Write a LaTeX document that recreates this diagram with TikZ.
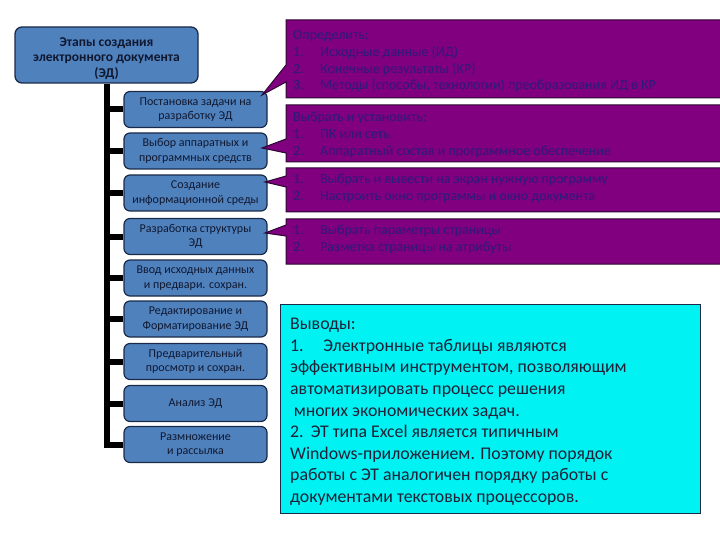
\documentclass[tikz,border=0pt]{standalone}
\usepackage{fontspec}
\setmainfont{Carlito}
\usetikzlibrary{backgrounds}
\definecolor{boxblue}{HTML}{4F81BD}
\definecolor{boxline}{HTML}{1A2A48}
\definecolor{boxtext}{HTML}{101830}
\definecolor{purp}{HTML}{800080}
\definecolor{purpline}{HTML}{2A0830}
\definecolor{purptext}{HTML}{2E1A78}
\definecolor{cyanfill}{HTML}{00F2F2}
\definecolor{cyantext}{HTML}{202038}
\begin{document}
\begin{tikzpicture}[x=1pt,y=-1pt,
  topbox/.style={draw=boxline,line width=1.3pt,fill=boxblue,rounded corners=7pt,
    minimum width=183pt,minimum height=56pt,inner sep=0pt},
  toptext/.style={align=center,text=boxtext,
    font=\bfseries\fontsize{13.5}{15.5}\selectfont,inner sep=0pt},
  stepbox/.style={draw=boxline,line width=1.2pt,fill=boxblue,rounded corners=6pt,
    minimum width=143pt,minimum height=36pt,align=center,text=boxtext,
    font=\fontsize{12}{14.5}\selectfont,inner sep=1pt},
  trunk/.style={line width=6pt,black},
  callout/.style={draw=purpline,line width=1pt,fill=purp},
  ctext/.style={anchor=north west,inner sep=0pt,align=left,text=purptext,
    font=\fontsize{14}{16.7}\selectfont},
  concl/.style={draw=boxline,line width=1pt,fill=cyanfill}
]
\useasboundingbox (0,0) rectangle (720,540);

% left column
\node[topbox] (top) at (106.5,55) {};
\node[toptext] (toplabel) at (106.5,58.5) {Этапы создания\\электронного документа\\(ЭД)};
\node[stepbox] (s1) at (195.5,109.5) {Постановка задачи на\\разработку ЭД};
\node[stepbox] (s2) at (195.5,151) {Выбор аппаратных и\\программных средств};
\node[stepbox] (s3) at (195.5,193) {Создание\\информационной среды};
\node[stepbox] (s4) at (195.5,236.5) {Разработка структуры\\ЭД};
\node[stepbox] (s5) at (195.5,278) {Ввод исходных данных\\и предвари. сохран.};
\node[stepbox] (s6) at (195.5,319) {Редактирование и\\Форматирование ЭД};
\node[stepbox] (s7) at (195.5,361.5) {Предварительный\\просмотр и сохран.};
\node[stepbox] (s8) at (195.5,403.5) {Анализ ЭД};
\node[stepbox] (s9) at (195.5,444.5) {Размножение\\и рассылка};

\begin{scope}[on background layer]
\draw[trunk,line join=miter] (top.south) |- (s9.west);
\foreach \i in {1,...,8}{
  \draw[trunk] (s\i.west) -- (s\i.west -| top.south);
}
\end{scope}

% callouts
\coordinate (t1) at (262,95);
\coordinate (t2) at (262,148);
\coordinate (t3) at (265,182);
\coordinate (t4) at (265,233);

\draw[callout] (286,20) -- (724,20) -- (724,98) -- (286,98) -- (286,82) -- (t1) -- (286,65) -- cycle;
\draw[callout] (286,105) -- (724,105) -- (724,162) -- (286,162) -- (286,153) -- (t2) -- (286,139) -- cycle;
\draw[callout] (286,168) -- (724,168) -- (724,212) -- (286,212) -- (286,187) -- (t3) -- (286,176) -- cycle;
\draw[callout] (286,219) -- (724,219) -- (724,264) -- (286,264) -- (286,236) -- (t4) -- (286,225) -- cycle;

\node[ctext] (c1) at (293,28) {\begin{tabular}{@{}p{27pt}@{}l@{}}
\multicolumn{2}{@{}l@{}}{Определить:}\\
1. & Исходные данные (ИД)\\
2. & Конечные результаты (КР)\\
3. & Методы (способы, технологии) преобразования ИД в КР
\end{tabular}};
\node[ctext] (c2) at (293,110) {\begin{tabular}{@{}p{27pt}@{}l@{}}
\multicolumn{2}{@{}l@{}}{Выбрать и установить:}\\
1. & ПК или сеть\\
2. & Аппаратный состав и программное обеспечение
\end{tabular}};
\node[ctext] (c3) at (293,172) {\begin{tabular}{@{}p{27pt}@{}l@{}}
1. & Выбрать и вывести на экран нужную программу\\
2. & Настроить окно программы и окно документа
\end{tabular}};
\node[ctext] (c4) at (293,223) {\begin{tabular}{@{}p{27pt}@{}l@{}}
1. & Выбрать параметры страницы\\
2. & Разметка страницы на атрибуты
\end{tabular}};

% conclusions
\node[concl,minimum width=420pt,minimum height=209pt,anchor=north west] (box) at (280,304) {};
\node[anchor=north west,inner sep=0pt,align=left,text=cyantext,
  font=\fontsize{17.8}{21.6}\selectfont] (ctxt) at (290,318) {Выводы:\\
1.\hspace{1.1em}Электронные таблицы являются\\
эффективным инструментом, позволяющим\\
автоматизировать процесс решения\\
\hspace{0.2em}многих экономических задач.\\
2.\hspace{0.4em}ЭТ типа Excel является типичным\\
Windows-приложением. Поэтому порядок\\
работы с ЭТ аналогичен порядку работы с\\
документами текстовых процессоров.};
\end{tikzpicture}
\end{document}
